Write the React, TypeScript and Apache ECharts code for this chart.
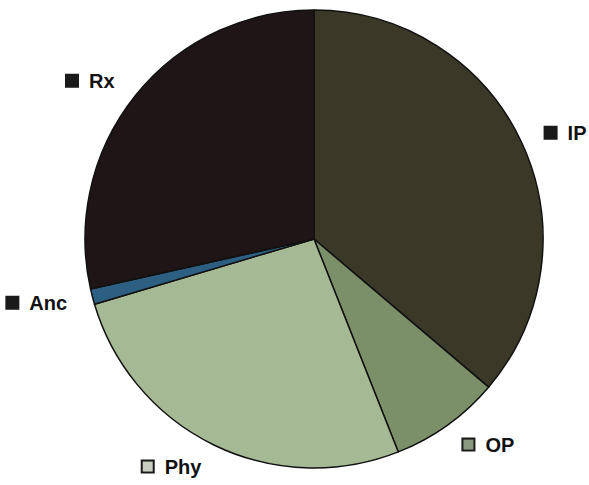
import React, { useEffect, useRef } from "react";
import * as echarts from "echarts";

const categories = ["IP", "OP", "Phy", "Anc", "Rx"];
const values = [36.2, 7.8, 26.4, 1.1, 28.5];
const colors = ["#3a3927", "#7b9068", "#a6b995", "#2d5f82", "#1f1517"];
const markerFills = ["#1a1a1a", "#8a9a80", "#c8cfc2", "#1a1a1a", "#1a1a1a"];

export default function App() {
  const ref = useRef<HTMLDivElement>(null);
  useEffect(() => {
    const chart = echarts.init(ref.current!, null, { renderer: "svg" });
    chart.setOption({
      animation: false,
      backgroundColor: "#ffffff",
      series: [
        {
          type: "pie",
          center: [314, 239],
          radius: 229,
          startAngle: 90,
          clockwise: true,
          avoidLabelOverlap: false,
          itemStyle: { borderColor: "#111", borderWidth: 1.5 },
          labelLine: { show: false, length: 24, length2: 0 },
          data: categories.map((c, i) => ({
            name: c,
            value: values[i],
            itemStyle: { color: colors[i] },
            label: {
              rich: {
                box: {
                  width: 10,
                  height: 10,
                  backgroundColor: markerFills[i],
                  borderColor: "#1a1a1a",
                  borderWidth: 2,
                },
              },
            },
          })),
          label: {
            show: true,
            position: "outside",
            distanceToLabelLine: 2,
            formatter: "{box|}{n|{b}}",
            rich: {
              n: {
                fontFamily: "Liberation Sans, Arial, sans-serif",
                fontWeight: "bold",
                fontSize: 20,
                color: "#111",
                padding: [0, 0, 0, 12],
              },
            },
          },
          emphasis: { disabled: true },
        },
      ],
    });
    return () => chart.dispose();
  }, []);
  return <div ref={ref} style={{ width: 589, height: 485, position: "absolute", left: 0, top: 0 }} />;
}
